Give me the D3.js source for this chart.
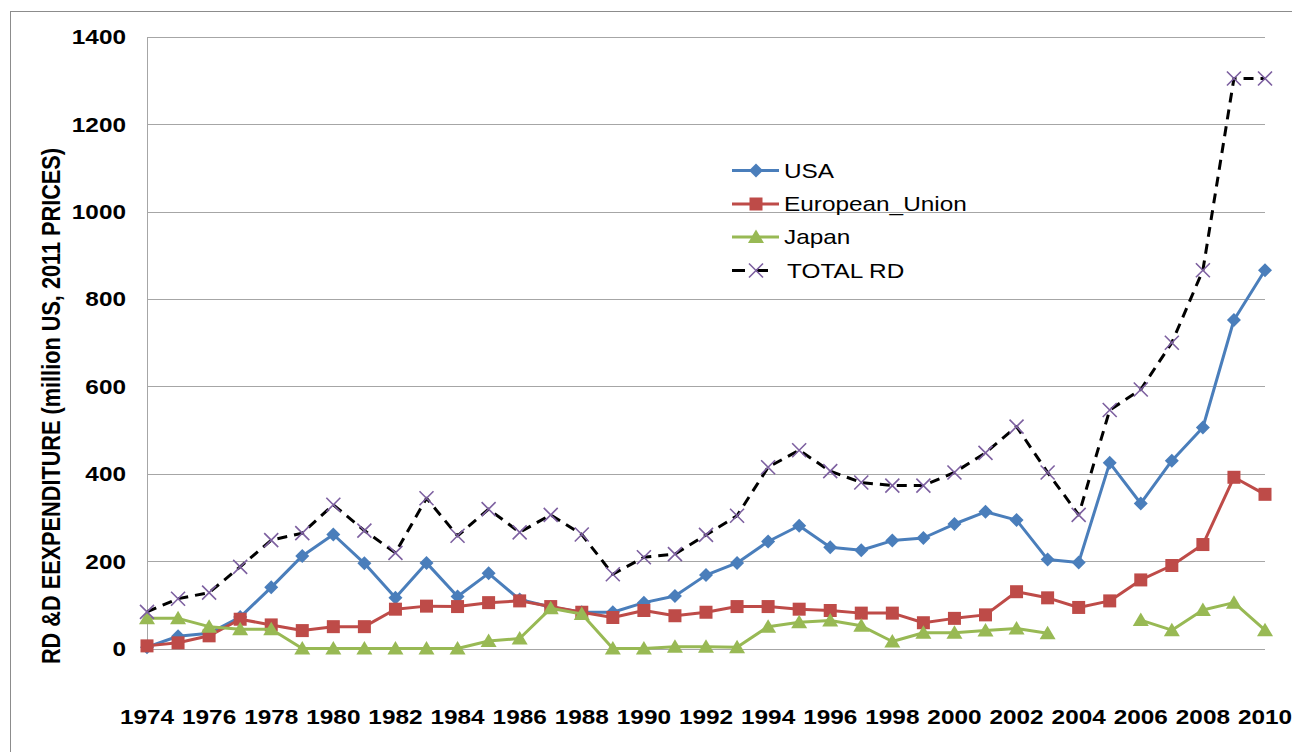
<!DOCTYPE html>
<html><head><meta charset="utf-8">
<script src="https://cdn.jsdelivr.net/npm/d3@7"></script>
<style>body{margin:0;background:#fff;} svg{display:block;font-family:"Liberation Sans",Arial,sans-serif;}</style>
</head><body>
<svg id="chart" width="1292" height="752"></svg>
<script>
const years = d3.range(1974, 2011);
const usa = [3,28,35,72,140,212,261,195,116,196,119,172,112,95,83,83,105,120,168,196,245,281,232,225,247,253,285,313,294,204,197,425,332,430,506,752,866];
const eu = [6,13,29,67,54,41,50,50,90,97,96,105,109,96,83,71,87,75,83,96,96,90,87,81,81,59,69,77,130,116,94,109,157,190,238,392,353];
const japan = [69,69,50,44,44,0,0,0,0,0,0,17,23,92,79,0,0,4,4,3,50,60,64,52,16,36,36,41,46,35,null,null,65,42,88,105,42];
const total = [84,114,128,187,248,264,329,270,219,344,258,319,266,306,261,170,209,216,260,304,415,454,406,380,373,373,403,448,508,403,306,546,593,700,866,1305,1305];
const yTicks = [0,200,400,600,800,1000,1200,1400];
const yTitle = "RD &D EEXPENDITURE (million US, 2011 PRICES)";

const svg = d3.select("#chart");
const L = 147, R = 1265, T = 37, B = 648.5;
const x = d3.scalePoint().domain(years).range([L, R]);
const y = d3.scaleLinear().domain([0, 1400]).range([B, T]);
const SX = 1.16;

// outer frame
svg.append("rect").attr("x", 10.5).attr("y", 11.5).attr("width", 1400).attr("height", 900)
  .attr("fill", "none").attr("stroke", "#8c8c8c").attr("stroke-width", 1);

// gridlines
svg.append("g").selectAll("line").data(yTicks).join("line")
  .attr("x1", L).attr("x2", R).attr("y1", d => Math.round(y(d)) + 0.5).attr("y2", d => Math.round(y(d)) + 0.5)
  .attr("stroke", "#a6a6a6").attr("stroke-width", 1);
// y axis line
svg.append("line").attr("x1", L + 0.5).attr("x2", L + 0.5).attr("y1", T).attr("y2", B + 0.5)
  .attr("stroke", "#a6a6a6");

// y tick labels
svg.append("g").selectAll("text").data(yTicks).join("text")
  .attr("transform", d => `translate(126,${y(d)}) scale(${SX},1)`)
  .attr("text-anchor", "end").attr("dy", "0.35em")
  .attr("font-size", 21).attr("font-weight", "bold").attr("fill", "#000")
  .text(d => d);

// x tick labels
svg.append("g").selectAll("text").data(years.filter(v => (v - 1974) % 2 === 0)).join("text")
  .attr("transform", d => `translate(${x(d)},${717}) scale(${SX},1)`)
  .attr("text-anchor", "middle").attr("dy", "0.35em")
  .attr("font-size", 21).attr("font-weight", "bold").attr("fill", "#000")
  .text(d => d);

// y title
svg.append("text")
  .attr("transform", `translate(51,406) scale(${SX},1) rotate(-90)`)
  .attr("text-anchor", "middle").attr("dy", "0.35em")
  .attr("font-size", 21.7).attr("font-weight", "bold").attr("fill", "#000")
  .text(yTitle);

const series = [
  {name: "USA", vals: usa, color: "#4a7ebb", marker: "diamond"},
  {name: "European_Union", vals: eu, color: "#be4b48", marker: "square"},
  {name: "Japan", vals: japan, color: "#98b954", marker: "triangle"},
  {name: "TOTAL RD", vals: total, color: "#000", marker: "x", dash: "10,7"}
];

function drawMarker(g, type, cx, cy) {
  if (type === "diamond") {
    g.append("path").attr("d", `M${cx},${cy-7}L${cx+7},${cy}L${cx},${cy+7}L${cx-7},${cy}Z`).attr("fill", "#4a7ebb");
  } else if (type === "square") {
    g.append("rect").attr("x", cx-6.5).attr("y", cy-6.5).attr("width", 13).attr("height", 13).attr("fill", "#be4b48");
  } else if (type === "triangle") {
    g.append("path").attr("d", `M${cx},${cy-7.5}L${cx+8},${cy+6}L${cx-8},${cy+6}Z`).attr("fill", "#98b954");
  } else {
    g.append("path").attr("d", `M${cx-7},${cy-7}L${cx+7},${cy+7}M${cx-7},${cy+7}L${cx+7},${cy-7}`)
      .attr("stroke", "#7d60a0").attr("stroke-width", 1.6).attr("fill", "none");
  }
}

const line = d3.line().defined(d => d[1] !== null).x(d => x(d[0])).y(d => y(d[1]));
series.forEach(s => {
  const data = years.map((yr, i) => [yr, s.vals[i]]);
  svg.append("path").datum(data).attr("d", line).attr("fill", "none")
    .attr("stroke", s.color).attr("stroke-width", 3).attr("stroke-linejoin", "round")
    .attr("stroke-dasharray", s.dash || null);
  const g = svg.append("g");
  data.filter(d => d[1] !== null).forEach(d => drawMarker(g, s.marker, x(d[0]), y(d[1])));
});

// legend
const legY = [170.5, 204, 237, 270.5];
series.forEach((s, i) => {
  const g = svg.append("g");
  if (s.dash) {
    g.append("line").attr("x1", 732).attr("x2", 745).attr("y1", legY[i]).attr("y2", legY[i]).attr("stroke", "#000").attr("stroke-width", 3);
    g.append("line").attr("x1", 756).attr("x2", 768).attr("y1", legY[i]).attr("y2", legY[i]).attr("stroke", "#000").attr("stroke-width", 3);
    drawMarker(g, s.marker, 756, legY[i]);
  } else {
    g.append("line").attr("x1", 732).attr("x2", 779).attr("y1", legY[i]).attr("y2", legY[i]).attr("stroke", s.color).attr("stroke-width", 3);
    drawMarker(g, s.marker, 756, legY[i]);
  }
  g.append("text").attr("transform", `translate(${s.dash ? 787 : 784},${legY[i]}) scale(${SX},1)`)
    .attr("dy", "0.35em").attr("font-size", 21).attr("fill", "#000").text(s.name);
});
</script>
</body></html>
